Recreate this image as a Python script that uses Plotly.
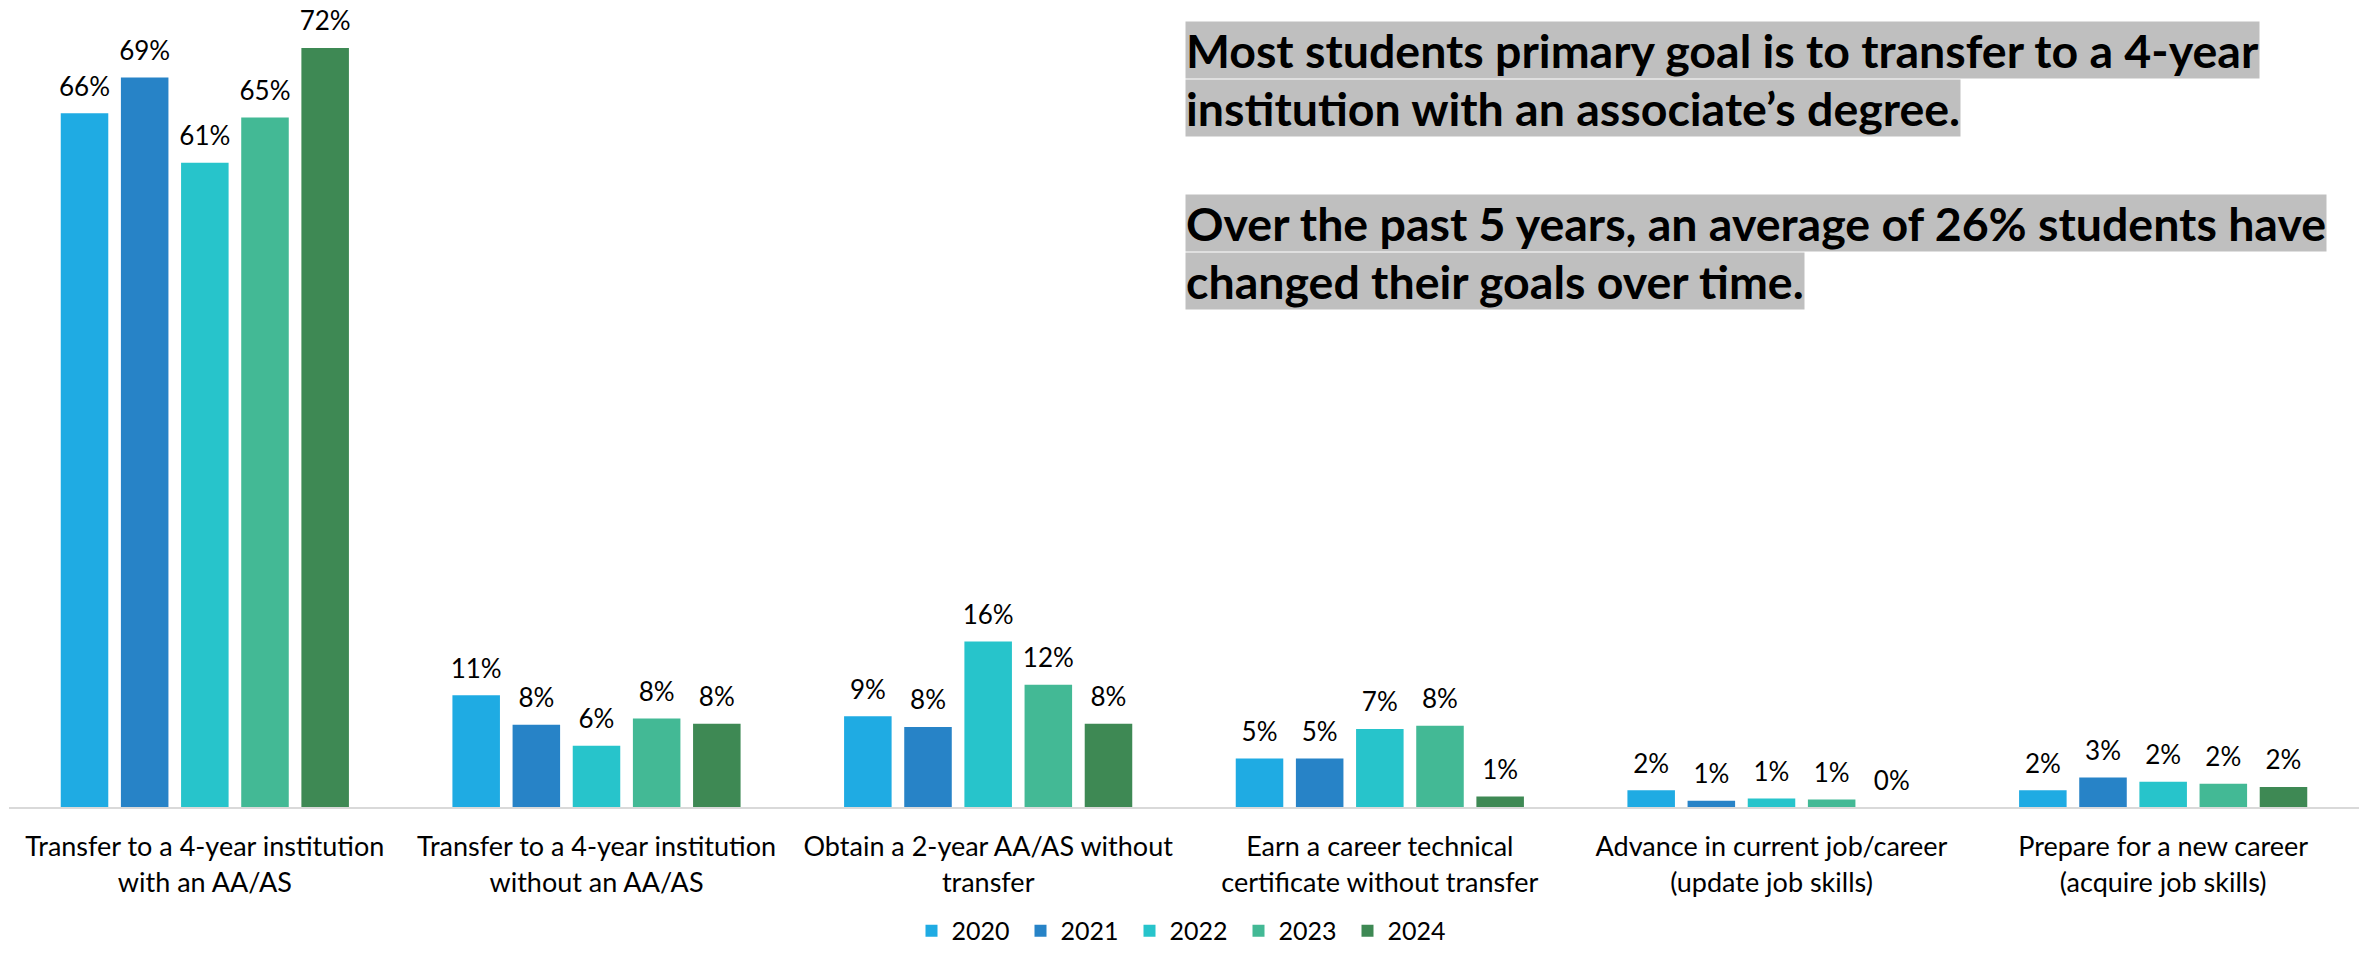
import plotly.graph_objects as go

categories = [
    "Transfer to a 4-year institution<br>with an AA/AS",
    "Transfer to a 4-year institution<br>without an AA/AS",
    "Obtain a 2-year AA/AS without<br>transfer",
    "Earn a career technical<br>certificate without transfer",
    "Advance in current job/career<br>(update job skills)",
    "Prepare for a new career<br>(acquire job skills)",
]
years = ["2020", "2021", "2022", "2023", "2024"]
v2020 = [65.8, 10.6, 8.6, 4.6, 1.6, 1.6]
v2021 = [69.2, 7.8, 7.6, 4.6, 0.6, 2.8]
v2022 = [61.1, 5.8, 15.7, 7.4, 0.8, 2.4]
v2023 = [65.4, 8.4, 11.6, 7.7, 0.7, 2.2]
v2024 = [72.0, 7.9, 7.9, 1.0, 0.0, 1.9]
series = [v2020, v2021, v2022, v2023, v2024]
colors = ["#1FABE3", "#2783C7", "#27C4CB", "#43B995", "#3E8954"]

notes = [
    "Most students primary goal is to transfer to a 4-year",
    "institution with an associate’s degree.",
    "Over the past 5 years, an average of 26% students have",
    "changed their goals over time.",
]

FONT = "Lato"
fig = go.Figure()
for yr, vals, col in zip(years, series, colors):
    fig.add_trace(go.Bar(
        x=categories, y=vals, name=yr, marker_color=col,
        marker_line_width=0, offsetgroup=yr,
    ))
for yr, vals in zip(years, series):
    fig.add_trace(go.Scatter(
        x=categories, y=vals, mode="markers+text", offsetgroup=yr,
        marker=dict(size=16, color="rgba(0,0,0,0)"),
        text=[f"{v:.0f}%" for v in vals], textposition="top center",
        textfont=dict(family=FONT, size=26, color="#000000"),
        showlegend=False, hoverinfo="skip", cliponaxis=False,
    ))

ann_y = [0.9492, 0.8767, 0.7324, 0.66]
annotations = []
for t, yy in zip(notes, ann_y):
    annotations.append(dict(
        text=t, xref="paper", yref="paper", x=0.5004, y=yy,
        xanchor="left", yanchor="middle", showarrow=False,
        font=dict(family=FONT, size=46.5, color="#000000", weight="bold"),
        bgcolor="#BFBFBF", borderpad=0,
    ))

fig.update_layout(
    width=2369, height=954,
    margin=dict(l=9, r=10, t=10, b=147, autoexpand=False),
    paper_bgcolor="white", plot_bgcolor="white",
    barmode="group", bargap=0.232, bargroupgap=0.21,
    scattermode="group", scattergap=0.232,
    font=dict(family=FONT, size=27, color="#000000"),
    showlegend=True,
    legend=dict(orientation="h", x=0.5, xanchor="center", y=-0.1844, yanchor="bottom",
                font=dict(family=FONT, size=25), traceorder="normal",
                entrywidth=64, entrywidthmode="pixels"),
    annotations=annotations,
    xaxis=dict(showline=True, linecolor="#D9D9D9", linewidth=2, showgrid=False,
               ticks="", tickfont=dict(family=FONT, size=27, color="#000000"),
               ticklabelstandoff=15, automargin=False),
    yaxis=dict(range=[0, 75.6], visible=False, showgrid=False, zeroline=False,
               automargin=False),
)

fig.write_html("out.html", config={"displayModeBar": False},
               post_script="document.body.style.margin='0';document.body.style.overflow='hidden';")
